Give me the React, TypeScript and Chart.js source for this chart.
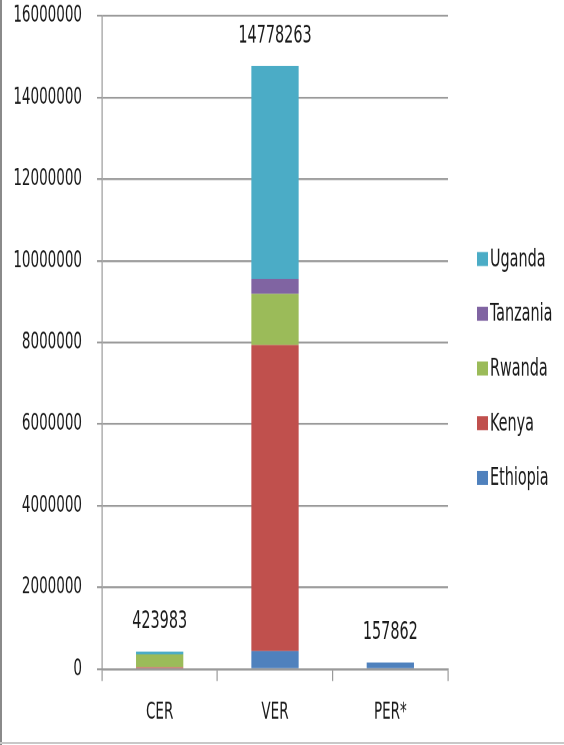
import React, { useEffect, useRef } from "react";
import { Chart, registerables } from "chart.js";

Chart.register(...registerables);

const categories = ["CER", "VER", "PER*"];
const seriesNames = ["Ethiopia", "Kenya", "Rwanda", "Tanzania", "Uganda"];
const ethiopia = [0, 440000, 157862];
const kenya = [45000, 7500000, 0];
const rwanda = [315000, 1250000, 0];
const tanzania = [0, 370000, 0];
const uganda = [63983, 5218263, 0];
const seriesColors = ["#4F81BD", "#C0504D", "#9BBB59", "#8064A2", "#4BACC6"];
const yTickMin = 0;
const yTickMax = 16000000;
const yTickStep = 2000000;

// The reference is a vertically stretched picture; the chart is drawn on a
// shorter canvas and stretched by K so that text and lines match it.
const W = 564;
const H = 481;
const K = 745 / H;

const FONT = "'DejaVu Sans Condensed', 'Liberation Sans Narrow', sans-serif";
const FS = 15;
const FS_BIG = 16;
const TEXT = "#1a1a1a";
const GRID = "#9a9a9a";

const totalsPlugin = {
  id: "totals",
  afterDatasetsDraw(chart: any) {
    const { ctx, scales } = chart;
    const n = chart.data.labels.length;
    ctx.save();
    ctx.font = `${FS_BIG}px ${FONT}`;
    ctx.fillStyle = TEXT;
    ctx.textAlign = "center";
    ctx.textBaseline = "middle";
    for (let i = 0; i < n; i++) {
      let total = 0;
      chart.data.datasets.forEach((d: any) => (total += d.data[i] || 0));
      const x = scales.x.getPixelForValue(i);
      const y = scales.y.getPixelForValue(total);
      ctx.fillText(String(total), x, y - 30 / K);
    }
    ctx.restore();
  },
};

const legendPlugin = {
  id: "sideLegend",
  afterDraw(chart: any) {
    const { ctx } = chart;
    const ds = chart.data.datasets.slice().reverse();
    ctx.save();
    ctx.font = `${FS_BIG}px ${FONT}`;
    ctx.textAlign = "left";
    ctx.textBaseline = "middle";
    ds.forEach((d: any, i: number) => {
      const cy = (259 + i * 54.7) / K;
      ctx.fillStyle = d.backgroundColor;
      ctx.fillRect(477, cy - 7 / K, 11, 14 / K);
      ctx.fillStyle = TEXT;
      ctx.fillText(d.label, 490, cy + 0.5);
    });
    ctx.restore();
  },
};

export default function App() {
  const ref = useRef<HTMLCanvasElement | null>(null);
  useEffect(() => {
    if (!ref.current) return;
    const values = [ethiopia, kenya, rwanda, tanzania, uganda];
    const chart = new Chart(ref.current, {
      type: "bar",
      data: {
        labels: categories,
        datasets: seriesNames.map((name, i) => ({
          label: name,
          data: values[i],
          backgroundColor: seriesColors[i],
          borderWidth: 0,
          categoryPercentage: 1,
          barPercentage: 0.41,
        })),
      },
      options: {
        responsive: false,
        animation: false,
        devicePixelRatio: 2,
        layout: { padding: { left: 0, right: 116, top: 0, bottom: 0 } },
        plugins: { legend: { display: false }, tooltip: { enabled: false } },
        scales: {
          x: {
            stacked: true,
            afterFit: (s: any) => {
              s.height = H - 669 / K;
            },
            grid: {
              display: true,
              offset: true,
              drawOnChartArea: false,
              drawTicks: true,
              tickLength: 12 / K,
              color: GRID,
              lineWidth: 1.2,
            },
            border: { display: true, color: GRID, width: 1.2 },
            ticks: {
              color: TEXT,
              font: { family: FONT, size: FS },
              padding: 11.5,
            },
          },
          y: {
            stacked: true,
            min: yTickMin,
            max: yTickMax,
            afterFit: (s: any) => {
              s.width = 102;
              s.paddingTop = 16 / K;
              s.paddingBottom = 0;
            },
            grid: {
              display: true,
              drawOnChartArea: true,
              drawTicks: true,
              tickLength: 5,
              color: GRID,
              lineWidth: 1.2,
            },
            border: { display: true, color: GRID, width: 1.2 },
            ticks: {
              stepSize: yTickStep,
              color: TEXT,
              font: { family: FONT, size: FS },
              padding: 15,
              callback: (v: any) => String(v),
            },
          },
        },
      },
      plugins: [totalsPlugin, legendPlugin],
    });
    return () => chart.destroy();
  }, []);

  return (
    <div style={{ position: "absolute", left: 0, top: 0, width: 564, height: 745, overflow: "hidden", background: "#fff" }}>
      <div style={{ width: W, height: H, transform: `scale(1, ${K})`, transformOrigin: "0 0" }}>
        <canvas ref={ref} width={W} height={H} style={{ display: "block", width: W, height: H }} />
      </div>
      <div style={{ position: "absolute", left: 0, top: 0, width: 2, height: 745, background: "#8a8a8a" }} />
      <div style={{ position: "absolute", left: 0, top: 742, width: 564, height: 2, background: "#c8c8c8" }} />
    </div>
  );
}
